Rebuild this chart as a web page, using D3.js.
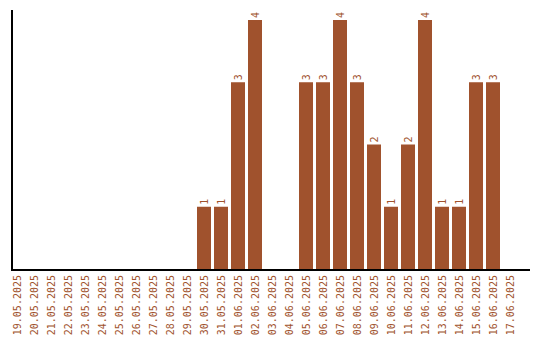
<!DOCTYPE html>
<html lang="en"><head><meta charset="UTF-8">
<title>Chart</title>
<script src="https://d3js.org/d3.v7.min.js"></script>
<style>
  body { margin: 0; background: #fff; }
  text { font-family: "DejaVu Sans Mono", monospace; font-size: 10px; fill: #a0522d; }
</style>
</head>
<body>
<script>
// dates and counts
var dates = ["19.05.2025","20.05.2025","21.05.2025","22.05.2025","23.05.2025","24.05.2025",
  "25.05.2025","26.05.2025","27.05.2025","28.05.2025","29.05.2025","30.05.2025","31.05.2025",
  "01.06.2025","02.06.2025","03.06.2025","04.06.2025","05.06.2025","06.06.2025","07.06.2025",
  "08.06.2025","09.06.2025","10.06.2025","11.06.2025","12.06.2025","13.06.2025","14.06.2025",
  "15.06.2025","16.06.2025","17.06.2025"];
var counts = [0,0,0,0,0,0,0,0,0,0,0,1,1,3,4,0,0,3,3,4,3,2,1,2,4,1,1,3,3,0];

var w = 540, h = 340;
var color = "#a0522d";

var svg = d3.select("body").append("svg")
  .attr("width", w).attr("height", h);

// step 17, bar width 14
var x = d3.scaleBand()
  .domain(dates)
  .range([8.5, 8.5 + 17 * dates.length])
  .paddingInner(3 / 17)
  .paddingOuter(3 / 34);

var y = d3.scaleLinear()
  .domain([0, d3.max(counts)])
  .range([269, 20]);

var data = dates.map(function(d, i) { return {date: d, value: counts[i]}; });

svg.selectAll("rect.bar")
  .data(data.filter(function(d) { return d.value > 0; }))
  .enter().append("rect")
  .attr("class", "bar")
  .attr("x", function(d) { return x(d.date); })
  .attr("y", function(d) { return y(d.value); })
  .attr("width", x.bandwidth())
  .attr("height", function(d) { return y(0) - y(d.value); })
  .attr("fill", color);

// value labels
svg.selectAll("text.val")
  .data(data.filter(function(d) { return d.value > 0; }))
  .enter().append("text")
  .attr("class", "val")
  .attr("transform", function(d) {
    return "translate(" + (x(d.date) + x.bandwidth() / 2 + 3.5) + "," + (y(d.value) - 2) + ") rotate(-90)";
  })
  .text(function(d) { return d.value; });

// date labels
svg.selectAll("text.date")
  .data(dates)
  .enter().append("text")
  .attr("class", "date")
  .attr("text-anchor", "end")
  .attr("transform", function(d) {
    return "translate(" + (x(d) + x.bandwidth() / 2 + 3.5) + ",275) rotate(-90)";
  })
  .text(function(d) { return d; });

// axis lines
svg.append("line")
  .attr("x1", 12).attr("x2", 12).attr("y1", 10).attr("y2", 270)
  .attr("stroke", "#000").attr("stroke-width", 2);
svg.append("line")
  .attr("x1", 11).attr("x2", 530).attr("y1", 270).attr("y2", 270)
  .attr("stroke", "#000").attr("stroke-width", 2);
</script>
</body></html>
